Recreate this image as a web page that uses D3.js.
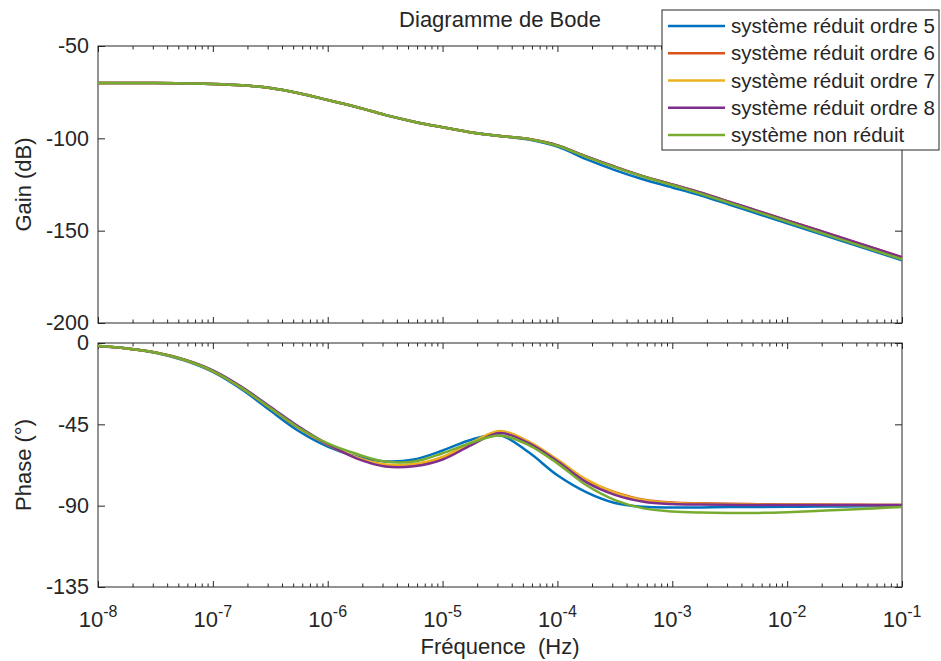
<!DOCTYPE html>
<html>
<head>
<meta charset="utf-8">
<script src="https://cdn.jsdelivr.net/npm/d3@7"></script>
<style>
body { margin: 0; background: #fff; }
text { font-family: "Liberation Sans", Arial, sans-serif; fill: #262626; }
</style>
</head>
<body>
<div id="root"></div>
<script>
// exposants de la fréquence (Hz), pas d'un quart de décade
var logFreq = [-8, -7.75, -7.5, -7.25, -7, -6.75, -6.5, -6.25, -6, -5.75, -5.5, -5.25, -5, -4.75, -4.5,
    -4.25, -4, -3.75, -3.5, -3.25, -3, -2.75, -2.5, -2.25, -2, -1.75, -1.5, -1.25, -1];

var seriesNames = ["système réduit ordre 5", "système réduit ordre 6", "système réduit ordre 7",
    "système réduit ordre 8", "système non réduit"];
var seriesColors = ["#0072BD", "#D95319", "#EDB120", "#7E2F8E", "#77AC30"];

// gain (dB)
var gainOrdre5 = [-70, -70, -70.1, -70.3, -70.6, -71.3, -72.8, -75.6, -79.3, -83.1, -87.4, -91, -94, -96.8, -98.7,
    -100.7, -104.5, -111.3, -117.2, -122.3, -126.6, -131, -136, -141, -146, -151, -156, -161, -166];
var gainOrdre6 = [-70, -70, -70.1, -70.3, -70.6, -71.3, -72.8, -75.6, -79.2, -83, -87.3, -91, -94, -96.8, -98.7,
    -100.4, -103.8, -109.8, -115.4, -120.6, -125, -129.5, -134.5, -139.5, -144.4, -149.4, -154.4, -159.4, -164.4];
var gainOrdre7 = [-70, -70, -70.1, -70.3, -70.6, -71.3, -72.8, -75.6, -79.2, -83, -87.3, -91, -94, -96.8, -98.7,
    -100.4, -103.8, -109.9, -115.5, -120.7, -125.1, -129.7, -134.7, -139.7, -144.7, -149.7, -154.8, -159.8, -164.8];
var gainOrdre8 = [-70, -70, -70.1, -70.3, -70.6, -71.3, -72.8, -75.6, -79.2, -83, -87.3, -91, -94, -96.8, -98.7,
    -100.4, -103.8, -109.8, -115.4, -120.6, -125, -129.5, -134.4, -139.4, -144.4, -149.4, -154.4, -159.4, -164.4];
var gainNonReduit = [-70, -70, -70.1, -70.3, -70.6, -71.3, -72.8, -75.6, -79.2, -83, -87.3, -91, -94, -96.8, -98.7,
    -100.4, -104, -110, -115.6, -120.8, -125.3, -130, -135, -140.1, -145.2, -150.3, -155.4, -160.5, -165.5];

// phase (degrés)
var phaseOrdre5 = [-1.7, -3, -5.4, -9.6, -16, -25.6, -37.4, -48.8, -57.3, -62.8, -65.5, -64.5, -59.5, -53.5, -51,
    -60.5, -73.2, -82.5, -88.5, -90.6, -91, -91, -90.8, -90.7, -90.6, -90.5, -90.4, -90.3, -90.2];
var phaseOrdre6 = [-1.7, -3, -5.3, -9.3, -15.5, -24.8, -36, -47.2, -56.3, -63.5, -67.5, -67.3, -63.3, -55.5, -49,
    -54.8, -65, -76, -82.5, -86.7, -88.2, -88.7, -89, -89.2, -89.3, -89.4, -89.5, -89.6, -89.7];
var phaseOrdre7 = [-1.7, -3, -5.3, -9.3, -15.4, -24.7, -35.9, -47, -56.1, -63.2, -67.2, -67, -63, -55.2, -48.7,
    -54.5, -64.5, -75.5, -82.8, -87, -88.5, -89, -89.2, -89.4, -89.5, -89.5, -89.6, -89.6, -89.7];
var phaseOrdre8 = [-1.7, -3, -5.2, -9.1, -15.1, -24.2, -35.3, -46.4, -56, -63.8, -68.3, -68.2, -64.5, -56.5, -49.8,
    -55.4, -65.5, -77, -84, -87.8, -89.1, -89.4, -89.5, -89.6, -89.6, -89.6, -89.6, -89.6, -89.6];
var phaseNonReduit = [-1.7, -3, -5.3, -9.3, -15.5, -24.8, -36, -47, -55.5, -61.3, -65.6, -65.6, -61, -55.2, -51.2,
    -56.5, -66.6, -78.6, -86.9, -91.5, -93.2, -93.8, -94, -94, -93.6, -93, -92.2, -91.5, -90.8];

var gainSeries = [gainOrdre5, gainOrdre6, gainOrdre7, gainOrdre8, gainNonReduit];
var phaseSeries = [phaseOrdre5, phaseOrdre6, phaseOrdre7, phaseOrdre8, phaseNonReduit];

var decadeExponents = [-8, -7, -6, -5, -4, -3, -2, -1];
var gainTicks = [-200, -150, -100, -50];
var phaseTicks = [-135, -90, -45, 0];

var width = 941,
    height = 661,
    left = 98,
    right = 902,
    gainTop = 46,
    gainBottom = 323,
    phaseTop = 343,
    phaseBottom = 587,
    ink = "#262626";

var svg = d3.select("#root")
    .append("svg")
    .attr("width", width)
    .attr("height", height);

var x = d3.scaleLog()
    .domain([1e-8, 1e-1])
    .range([left, right]);
var yGain = d3.scaleLinear().domain([-200, -50]).range([gainBottom, gainTop]);
var yPhase = d3.scaleLinear().domain([-135, 0]).range([phaseBottom, phaseTop]);

var majorValues = decadeExponents.map(function (e) { return Math.pow(10, e); });
var minorValues = x.ticks().filter(function (v) {
    return Math.abs(Math.log10(v) - Math.round(Math.log10(v))) > 1e-6;
});

function drawPanel(y, top, bottom, yTicks) {
    var g = svg.append("g");
    // graduations vers l'intérieur sur les 4 côtés
    [[d3.axisBottom, bottom], [d3.axisTop, top]].forEach(function (a) {
        g.append("g").attr("transform", "translate(0," + a[1] + ")")
            .call(a[0](x).tickValues(majorValues).tickSize(-6).tickSizeOuter(0).tickFormat(""));
        g.append("g").attr("transform", "translate(0," + a[1] + ")")
            .call(a[0](x).tickValues(minorValues).tickSize(-3.5).tickSizeOuter(0).tickFormat(""));
    });
    // tiret simple comme dans MATLAB (pas de signe moins unicode)
    g.append("g").attr("transform", "translate(" + left + ",0)")
        .call(d3.axisLeft(y).tickValues(yTicks).tickSize(-7).tickSizeOuter(0).tickPadding(9)
            .tickFormat(function (d) { return String(d); }));
    g.append("g").attr("transform", "translate(" + right + ",0)")
        .call(d3.axisRight(y).tickValues(yTicks).tickSize(-7).tickSizeOuter(0).tickFormat(""));
    g.selectAll(".domain").remove();
    g.selectAll(".tick line").attr("stroke", ink);
    g.selectAll(".tick text").attr("font-size", 21.5).attr("font-family", null).attr("fill", ink);
    g.append("rect")
        .attr("x", left).attr("y", top)
        .attr("width", right - left).attr("height", bottom - top)
        .attr("fill", "none").attr("stroke", ink);
}

drawPanel(yGain, gainTop, gainBottom, gainTicks);
drawPanel(yPhase, phaseTop, phaseBottom, phaseTicks);

// courbes
function drawCurves(series, y) {
    var line = d3.line()
        .x(function (d, i) { return x(Math.pow(10, logFreq[i])); })
        .y(function (d) { return y(d); })
        .curve(d3.curveCatmullRom.alpha(0.5));
    svg.append("g").selectAll("path")
        .data(series)
        .enter()
        .append("path")
        .attr("d", line)
        .attr("fill", "none")
        .attr("stroke", function (d, i) { return seriesColors[i]; })
        .attr("stroke-width", 2.5)
        .attr("stroke-linejoin", "round");
}
drawCurves(gainSeries, yGain);
drawCurves(phaseSeries, yPhase);

// étiquettes 10^n
var xLabels = svg.append("g").selectAll("text")
    .data(decadeExponents)
    .enter()
    .append("text")
    .attr("x", function (d) { return x(Math.pow(10, d)); })
    .attr("y", 627)
    .attr("text-anchor", "middle")
    .attr("font-size", 22);
xLabels.append("tspan").text("10");
xLabels.append("tspan").attr("dy", -10).attr("font-size", 16).text(function (d) { return d; });

svg.append("text")
    .attr("x", (left + right) / 2).attr("y", 27)
    .attr("text-anchor", "middle").attr("font-size", 22)
    .text("Diagramme de Bode");

svg.append("text")
    .attr("x", (left + right) / 2).attr("y", 654)
    .attr("text-anchor", "middle").attr("font-size", 22)
    .style("white-space", "pre")
    .text("Fréquence  (Hz)");

svg.append("text")
    .attr("transform", "translate(31," + (gainTop + gainBottom) / 2 + ") rotate(-90)")
    .attr("text-anchor", "middle").attr("font-size", 22)
    .text("Gain (dB)");

svg.append("text")
    .attr("transform", "translate(31," + (phaseTop + phaseBottom) / 2 + ") rotate(-90)")
    .attr("text-anchor", "middle").attr("font-size", 22)
    .text("Phase (°)");

// légende
var legend = svg.append("g");
legend.append("rect")
    .attr("x", 662).attr("y", 10)
    .attr("width", 277).attr("height", 140)
    .attr("fill", "#fff").attr("stroke", ink);
var rows = legend.selectAll(".row")
    .data(seriesNames)
    .enter()
    .append("g")
    .attr("transform", function (d, i) { return "translate(0," + (26 + i * 27.25) + ")"; });
rows.append("line")
    .attr("x1", 668).attr("x2", 725)
    .attr("stroke", function (d, i) { return seriesColors[i]; })
    .attr("stroke-width", 2.5);
rows.append("text")
    .attr("x", 731).attr("dy", "0.35em")
    .attr("font-size", 20.5)
    .text(function (d) { return d; });
</script>
</body>
</html>
